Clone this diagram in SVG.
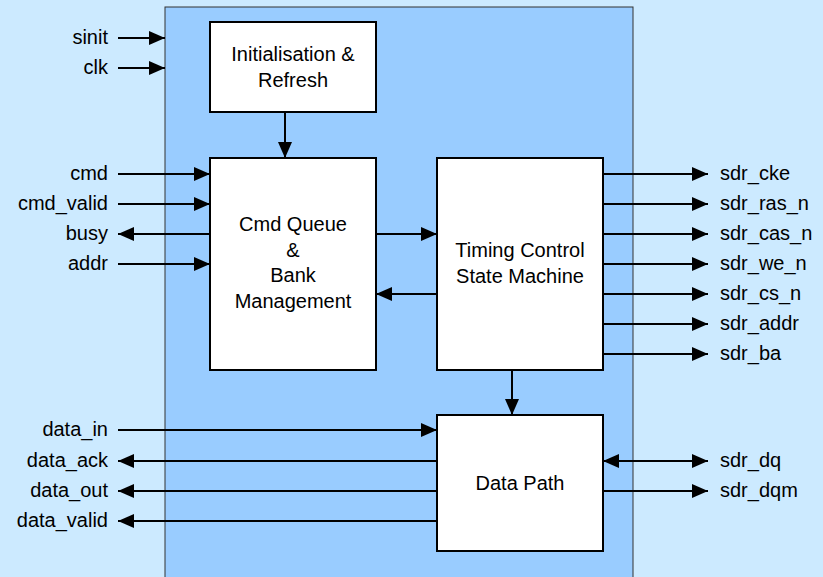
<svg xmlns="http://www.w3.org/2000/svg" width="823" height="577" viewBox="0 0 823 577">
<style>
.box{fill:#ffffff;stroke:#000;stroke-width:2}
.lbl{font-family:"Liberation Sans",Arial,sans-serif;font-size:20px;fill:#000}
.l{text-anchor:end}
.c{text-anchor:middle}
.w{fill:none;stroke:#000;stroke-width:2;marker-end:url(#ah)}
.bi{marker-start:url(#ah)}
</style>
<defs>
<marker id="ah" markerUnits="userSpaceOnUse" markerWidth="16" markerHeight="14" refX="16" refY="7" orient="auto-start-reverse">
<path d="M0,0 L16,7 L0,14 z" fill="#000"/>
</marker>
</defs>
<rect x="0" y="0" width="823" height="577" fill="#cceaff"/>
<rect id="panel" x="165" y="7" width="468" height="580" fill="#99ccff" stroke="#333" stroke-width="1"/>

<g id="connectors">
<path class="w" d="M118,38 H165"/>
<path class="w" d="M118,68 H165"/>
<path class="w" d="M285,112 V158"/>
<path class="w" d="M118,174 H210"/>
<path class="w" d="M118,204 H210"/>
<path class="w" d="M210,234 H118"/>
<path class="w" d="M118,264 H210"/>
<path class="w" d="M376,234 H437"/>
<path class="w" d="M437,294 H376"/>
<path class="w" d="M603,174 H708"/>
<path class="w" d="M603,204 H708"/>
<path class="w" d="M603,234 H708"/>
<path class="w" d="M603,264 H708"/>
<path class="w" d="M603,294 H708"/>
<path class="w" d="M603,324 H708"/>
<path class="w" d="M603,354 H708"/>
<path class="w" d="M512,370 V415"/>
<path class="w" d="M118,430 H437"/>
<path class="w" d="M437,461 H118"/>
<path class="w" d="M437,491 H118"/>
<path class="w" d="M437,521 H118"/>
<path class="w bi" d="M603,461 H708"/>
<path class="w" d="M603,491 H708"/>
</g>

<g id="init">
<rect class="box" x="210" y="22" width="166" height="90"/>
<text class="lbl c" x="293" y="61">Initialisation &amp;</text>
<text class="lbl c" x="293" y="87">Refresh</text>
</g>
<g id="cmdqueue">
<rect class="box" x="210" y="158" width="166" height="212"/>
<text class="lbl c" x="293" y="231">Cmd Queue</text>
<text class="lbl c" x="293" y="257">&amp;</text>
<text class="lbl c" x="293" y="282">Bank</text>
<text class="lbl c" x="293" y="308">Management</text>
</g>
<g id="timing">
<rect class="box" x="437" y="158" width="166" height="212"/>
<text class="lbl c" x="520" y="257">Timing Control</text>
<text class="lbl c" x="520" y="283">State Machine</text>
</g>
<g id="datapath">
<rect class="box" x="437" y="415" width="166" height="136"/>
<text class="lbl c" x="520" y="490">Data Path</text>
</g>

<g id="labels">
<text class="lbl l" x="108" y="44">sinit</text>
<text class="lbl l" x="108" y="74">clk</text>
<text class="lbl l" x="108" y="180">cmd</text>
<text class="lbl l" x="108" y="210">cmd_valid</text>
<text class="lbl l" x="108" y="240">busy</text>
<text class="lbl l" x="108" y="270">addr</text>
<text class="lbl l" x="108" y="436">data_in</text>
<text class="lbl l" x="108" y="467">data_ack</text>
<text class="lbl l" x="108" y="497">data_out</text>
<text class="lbl l" x="108" y="527">data_valid</text>
<text class="lbl" x="720" y="180">sdr_cke</text>
<text class="lbl" x="720" y="210">sdr_ras_n</text>
<text class="lbl" x="720" y="240">sdr_cas_n</text>
<text class="lbl" x="720" y="270">sdr_we_n</text>
<text class="lbl" x="720" y="300">sdr_cs_n</text>
<text class="lbl" x="720" y="330">sdr_addr</text>
<text class="lbl" x="720" y="360">sdr_ba</text>
<text class="lbl" x="720" y="467">sdr_dq</text>
<text class="lbl" x="720" y="497">sdr_dqm</text>
</g>
</svg>
